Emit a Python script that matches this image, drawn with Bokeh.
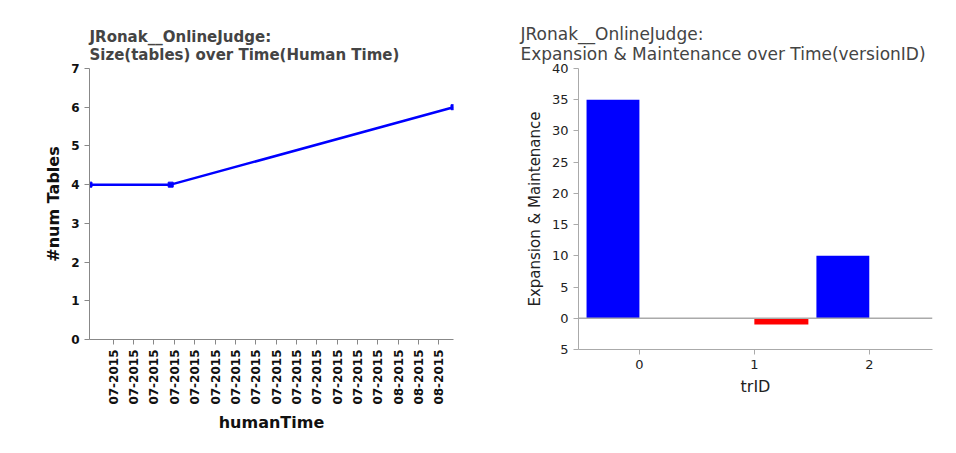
import math
from bokeh.plotting import figure
from bokeh.layouts import row
from bokeh.models import (Range1d, FixedTicker, DatetimeTickFormatter, Legend,
                          LegendItem, Span, ColumnDataSource, AllLabels)
from bokeh.transform import dodge
from bokeh.embed import file_html
from bokeh.resources import INLINE
import pandas as pd

FONT = "DejaVu Sans"

# ---------------- left chart data ----------------
human_time = ["2015-07-01 16:00", "2015-07-09 15:30", "2015-08-06 10:30"]
num_tables = [4, 4, 6]
time_ticks = ["2015-07-04", "2015-07-06", "2015-07-08", "2015-07-10", "2015-07-12",
              "2015-07-14", "2015-07-16", "2015-07-18", "2015-07-20", "2015-07-22",
              "2015-07-24", "2015-07-26", "2015-07-28", "2015-07-30", "2015-08-01",
              "2015-08-03", "2015-08-05"]
table_ticks = [0, 1, 2, 3, 4, 5, 6, 7]

# ---------------- right chart data ----------------
tr_id = [0, 1, 2]
expansion = [35, 0, 10]
maintenance = [0, -1, 0]
em_ticks = [-5, 0, 5, 10, 15, 20, 25, 30, 35, 40]
em_tick_labels = {-5: "5"}

left_title = "JRonak__OnlineJudge:\nSize(tables) over Time(Human Time)"
right_title = "JRonak__OnlineJudge:\nExpansion & Maintenance over Time(versionID)"

# ================= LEFT =================
xt = pd.to_datetime(human_time)
src1 = ColumnDataSource(dict(t=xt, n=num_tables))
p1 = figure(frame_width=364, frame_height=271, x_axis_type="datetime",
            x_range=Range1d(xt[0], xt[-1]), y_range=Range1d(0, 7),
            output_backend="svg", toolbar_location=None,
            min_border_left=89, min_border_right=35, min_border_top=68, min_border_bottom=100)
p1.outline_line_color = None
p1.grid.visible = False
p1.line("t", "n", source=src1, line_color="#0000ff", line_width=2.5)
p1.scatter("t", "n", source=src1, marker="square", size=5, color="#0000ff")

p1.title.text = left_title
p1.title.text_font = FONT
p1.title.text_font_size = "15px"
p1.title.text_font_style = "bold"

tick_ms = [pd.Timestamp(d).value // 10**6 for d in time_ticks]
p1.xaxis.ticker = FixedTicker(ticks=tick_ms)
fmt = "%m-%Y"
p1.xaxis.formatter = DatetimeTickFormatter(microseconds=fmt, milliseconds=fmt, seconds=fmt,
                                           minsec=fmt, minutes=fmt, hourmin=fmt, hours=fmt,
                                           days=fmt, months=fmt, years=fmt)
p1.xaxis.major_label_orientation = math.pi / 2
p1.yaxis.ticker = FixedTicker(ticks=table_ticks)
for ax in (p1.xaxis[0], p1.yaxis[0]):
    ax.major_label_policy = AllLabels()
    ax.axis_line_color = "#888888"
    ax.major_tick_line_color = "#888888"
    ax.minor_tick_line_color = None
    ax.major_tick_in = 0
    ax.major_tick_out = 5
    ax.major_label_text_font = FONT
    ax.major_label_text_font_size = "12px"
    ax.major_label_text_font_style = "bold"
    ax.major_label_text_color = "#111111"
    ax.axis_label_text_font = FONT
    ax.axis_label_text_font_size = "16px"
    ax.axis_label_text_font_style = "bold"
    ax.axis_label_text_color = "#111111"
p1.xaxis.axis_label = "humanTime"
p1.yaxis.axis_label = "#num Tables"

# ================= RIGHT =================
src2 = ColumnDataSource(dict(tr=tr_id, e=expansion, m=maintenance))
p2 = figure(frame_width=354, frame_height=281, x_range=Range1d(-0.53, 2.55),
            y_range=Range1d(-5, 40), output_backend="svg", toolbar_location=None,
            min_border_left=90, min_border_right=22, min_border_top=68, min_border_bottom=84)
p2.outline_line_color = None
p2.grid.visible = False
p2.add_layout(Span(location=0, dimension="width", line_color="#aaaaaa", line_width=1.5))
r1 = p2.vbar(x=dodge("tr", -0.23, range=p2.x_range), top="e", width=0.46, source=src2,
             fill_color="#0000ff", line_color=None)
r2 = p2.vbar(x=dodge("tr", 0.235, range=p2.x_range), top="m", width=0.47, source=src2,
             fill_color="#ff0000", line_color=None)

p2.title.text = right_title
p2.title.text_font = FONT
p2.title.text_font_size = "17px"
p2.title.text_font_style = "normal"
p2.title.offset = -58

p2.xaxis.ticker = FixedTicker(ticks=tr_id)
p2.yaxis.ticker = FixedTicker(ticks=em_ticks)
p2.yaxis.major_label_overrides = em_tick_labels
for ax in (p2.xaxis[0], p2.yaxis[0]):
    ax.major_label_policy = AllLabels()
    ax.axis_line_color = "#aaaaaa"
    ax.major_tick_line_color = "#aaaaaa"
    ax.minor_tick_line_color = None
    ax.major_tick_in = 0
    ax.major_tick_out = 5
    ax.major_label_text_font = FONT
    ax.major_label_text_font_size = "13px"
    ax.major_label_text_color = "#222222"
    ax.axis_label_text_font = FONT
    ax.axis_label_text_font_size = "16px"
    ax.axis_label_text_font_style = "normal"
    ax.axis_label_text_color = "#222222"
p2.xaxis.axis_label = "trID"
p2.yaxis.axis_label = "Expansion & Maintenance"
p2.yaxis.axis_label_text_font_size = "15px"

legend = Legend(items=[LegendItem(label="Expansion", renderers=[r1]),
                       LegendItem(label="Maintenance", renderers=[r2])],
                orientation="horizontal", location="center", glyph_width=14, glyph_height=14,
                label_standoff=4, spacing=29, padding=0, margin=4,
                border_line_alpha=0, background_fill_alpha=0,
                label_text_font=FONT, label_text_font_size="17px", label_text_color="#111111")
p2.add_layout(legend, "below")

layout = row(p1, p2)
open("out.html", "w").write(file_html(layout, INLINE))
